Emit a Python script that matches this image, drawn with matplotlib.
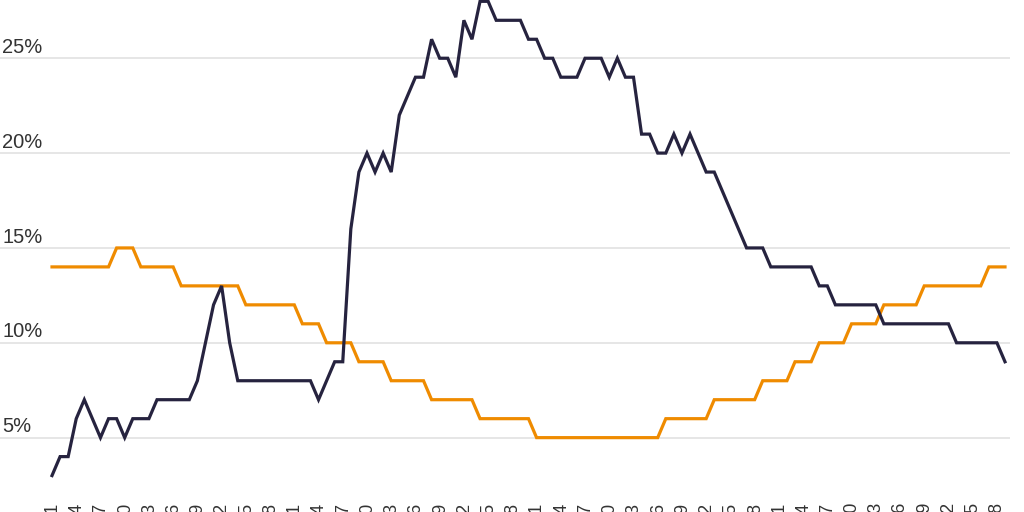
import matplotlib
matplotlib.use("Agg")
from matplotlib import pyplot as plt

# one point per year, tick label on every third year
years = list(range(1901, 2020))

dark_share = [
    3, 4, 4, 6, 7, 6, 5, 6, 6, 5,
    6, 6, 6, 7, 7, 7, 7, 7, 8, 10,
    12, 13, 10, 8, 8, 8, 8, 8, 8, 8,
    8, 8, 8, 7, 8, 9, 9, 16, 19, 20,
    19, 20, 19, 22, 23, 24, 24, 26, 25, 25,
    24, 27, 26, 28, 28, 27, 27, 27, 27, 26,
    26, 25, 25, 24, 24, 24, 25, 25, 25, 24,
    25, 24, 24, 21, 21, 20, 20, 21, 20, 21,
    20, 19, 19, 18, 17, 16, 15, 15, 15, 14,
    14, 14, 14, 14, 14, 13, 13, 12, 12, 12,
    12, 12, 12, 11, 11, 11, 11, 11, 11, 11,
    11, 11, 10, 10, 10, 10, 10, 10, 9,
]

orange_share = [
    14, 14, 14, 14, 14, 14, 14, 14, 15, 15,
    15, 14, 14, 14, 14, 14, 13, 13, 13, 13,
    13, 13, 13, 13, 12, 12, 12, 12, 12, 12,
    12, 11, 11, 11, 10, 10, 10, 10, 9, 9,
    9, 9, 8, 8, 8, 8, 8, 7, 7, 7,
    7, 7, 7, 6, 6, 6, 6, 6, 6, 6,
    5, 5, 5, 5, 5, 5, 5, 5, 5, 5,
    5, 5, 5, 5, 5, 5, 6, 6, 6, 6,
    6, 6, 7, 7, 7, 7, 7, 7, 8, 8,
    8, 8, 9, 9, 9, 10, 10, 10, 10, 11,
    11, 11, 11, 12, 12, 12, 12, 12, 13, 13,
    13, 13, 13, 13, 13, 13, 14, 14, 14,
]

grid_levels = [5, 10, 15, 20, 25]

plt.rcParams['font.family'] = ['Liberation Sans', 'DejaVu Sans']

fig = plt.figure(figsize=(10.24, 5.12), dpi=100)
ax = fig.add_axes([0, 22 / 512, 1010 / 1024, 490 / 512])

x = list(range(len(years)))
ax.plot(x, orange_share, color='#ef8b00', lw=2.3, solid_joinstyle='miter', zorder=3)
ax.plot(x, dark_share, color='#26233f', lw=2.3, solid_joinstyle='miter', zorder=4)

ax.set_xlim(-6.44, 118.62)
ax.set_ylim(2.24, 28.07)

# light horizontal grid, labels sit above each line at the left edge
ax.set_yticks(grid_levels)
ax.yaxis.grid(True, color='#e6e6e6', lw=1.4)
ax.set_axisbelow(True)
ax.tick_params(axis='y', length=0, labelleft=False)
for level in grid_levels:
    ax.text(0.002, level + 0.28, f"{level}%", transform=ax.get_yaxis_transform(),
            ha='left', va='baseline', fontsize=14.5, color='#333333')

# year labels run past the bottom edge, as in the source chart
ax.set_xticks(x[::3])
ax.set_xticklabels([str(y) for y in years[::3]], rotation=90, fontsize=13, color='#333333')
ax.tick_params(axis='x', length=0, pad=8.5)

for side in ['top', 'right', 'bottom', 'left']:
    ax.spines[side].set_visible(False)

plt.savefig('out.png', dpi=100)
